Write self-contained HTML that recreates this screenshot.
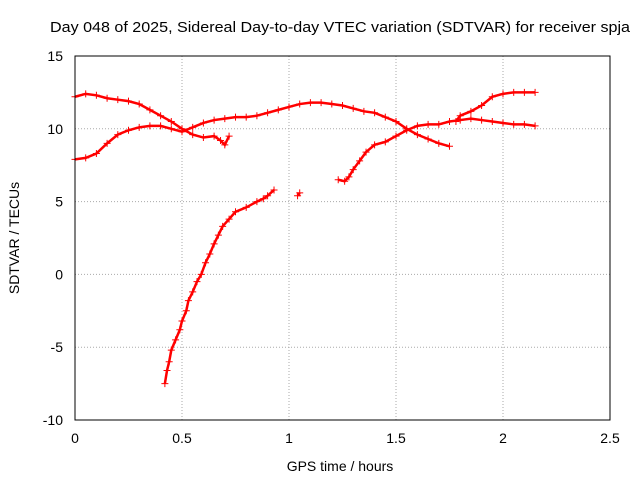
<!DOCTYPE html>
<html><head><meta charset="utf-8"><style>
body{margin:0;background:#fff;}
svg{display:block;font-family:"Liberation Sans",sans-serif;}
</style></head><body>
<svg id="chart" width="640" height="480" xmlns="http://www.w3.org/2000/svg">
<text x="340" y="32" font-size="15" text-anchor="middle" textLength="580" lengthAdjust="spacingAndGlyphs">Day 048 of 2025, Sidereal Day-to-day VTEC variation (SDTVAR) for receiver spja</text>
<text x="340" y="471" font-size="14" text-anchor="middle">GPS time / hours</text>
<text transform="translate(19,238) rotate(-90)" font-size="14" text-anchor="middle">SDTVAR / TECUs</text>
<g id="grid"></g><g id="ticks"></g><g id="marks"></g>
<rect x="75" y="56" width="535" height="364" fill="none" stroke="#000"/>
</svg>
<script>
const xTicks=[0,0.5,1,1.5,2,2.5];
const xTickLabels=["0","0.5","1","1.5","2","2.5"];
const yTicks=[15,10,5,0,-5,-10];
const yTickLabels=["15","10","5","0","-5","-10"];
const seriesAx=[0,0.05,0.1,0.15,0.2,0.25,0.3,0.35,0.4,0.45,0.5,0.55,0.6,0.65,0.68,0.7,0.72];
const seriesAy=[12.2,12.4,12.3,12.1,12.0,11.9,11.7,11.3,10.9,10.5,10.0,9.6,9.4,9.5,9.2,8.9,9.5];
const seriesBx=[0,0.05,0.1,0.15,0.2,0.25,0.3,0.35,0.4,0.45,0.5,0.55,0.6,0.65,0.7,0.75,0.8,0.85,0.9,0.95,1.0,1.05,1.1,1.15,1.2,1.25,1.3,1.35,1.4,1.45,1.5,1.55,1.6,1.65,1.7,1.75];
const seriesBy=[7.9,8.0,8.3,9.0,9.6,9.9,10.1,10.2,10.2,10.0,9.8,10.1,10.4,10.6,10.7,10.8,10.8,10.9,11.1,11.3,11.5,11.7,11.8,11.8,11.7,11.6,11.4,11.2,11.1,10.8,10.5,10.0,9.6,9.3,9.0,8.8];
const seriesCx=[0.42,0.43,0.44,0.45,0.47,0.49,0.5,0.52,0.53,0.55,0.57,0.59,0.61,0.63,0.65,0.67,0.69,0.72,0.75,0.8,0.85,0.88,0.9,0.93];
const seriesCy=[-7.5,-6.6,-6.0,-5.2,-4.5,-3.8,-3.2,-2.5,-1.8,-1.2,-0.5,0,0.8,1.4,2.1,2.7,3.3,3.8,4.3,4.6,5.0,5.2,5.4,5.8];
const seriesFx=[1.04,1.05];
const seriesFy=[5.4,5.6];
const seriesDx=[1.23,1.26,1.28,1.3,1.33,1.36,1.4,1.45,1.5,1.55,1.6,1.65,1.7,1.75,1.8,1.85,1.9,1.95,2.0,2.05,2.1,2.15];
const seriesDy=[6.5,6.4,6.7,7.2,7.8,8.4,8.9,9.1,9.5,9.9,10.2,10.3,10.3,10.5,10.6,10.7,10.6,10.5,10.4,10.3,10.3,10.2];
const seriesEx=[1.78,1.8,1.85,1.9,1.95,2.0,2.05,2.1,2.15];
const seriesEy=[10.5,10.9,11.2,11.6,12.2,12.4,12.5,12.5,12.5];
const NS="http://www.w3.org/2000/svg";
const X=v=>75+v/2.5*535, Y=v=>56+(15-v)/25*364;
function mk(t,a,p){const e=document.createElementNS(NS,t);for(const k in a)e.setAttribute(k,a[k]);p.appendChild(e);return e;}
const g=document.getElementById('grid'),tk=document.getElementById('ticks'),m=document.getElementById('marks');
xTicks.forEach((v,i)=>{
 if(i>0&&i<xTicks.length-1){const l=mk('line',{x1:X(v),x2:X(v),y1:56,y2:420,stroke:'#aaa','stroke-dasharray':'1,2'},g);
 
 }
 const t=mk('text',{x:X(v),y:443,'font-size':14,'text-anchor':'middle'},tk);t.textContent=xTickLabels[i];
 
 
});
yTicks.forEach((v,i)=>{
 if(i>0&&i<yTicks.length-1){const l=mk('line',{x1:75,x2:610,y1:Y(v),y2:Y(v),stroke:'#aaa','stroke-dasharray':'1,2'},g);
 
 }
 const t=mk('text',{x:63,y:Y(v)+5,'font-size':14,'text-anchor':'end'},tk);t.textContent=yTickLabels[i];
 
 
});
[[seriesAx,seriesAy,'a'],[seriesBx,seriesBy,'b'],[seriesCx,seriesCy,'c'],[seriesFx,seriesFy,'f'],[seriesDx,seriesDy,'d'],[seriesEx,seriesEy,'e']].forEach(([xs,ys,n])=>{
 const pl=mk('polyline',{points:xs.map((x,i)=>X(x)+','+Y(ys[i])).join(' '),fill:'none',stroke:'#f00','stroke-width':2.5},m);
 
 
 xs.forEach((x,i)=>{const cx=X(x),cy=Y(ys[i]);
  const p=mk('path',{d:`M${cx-3.5},${cy}h7M${cx},${cy-3.5}v7`,stroke:'#f00','stroke-width':1},m);
  
  });
});
</script>
</body></html>
